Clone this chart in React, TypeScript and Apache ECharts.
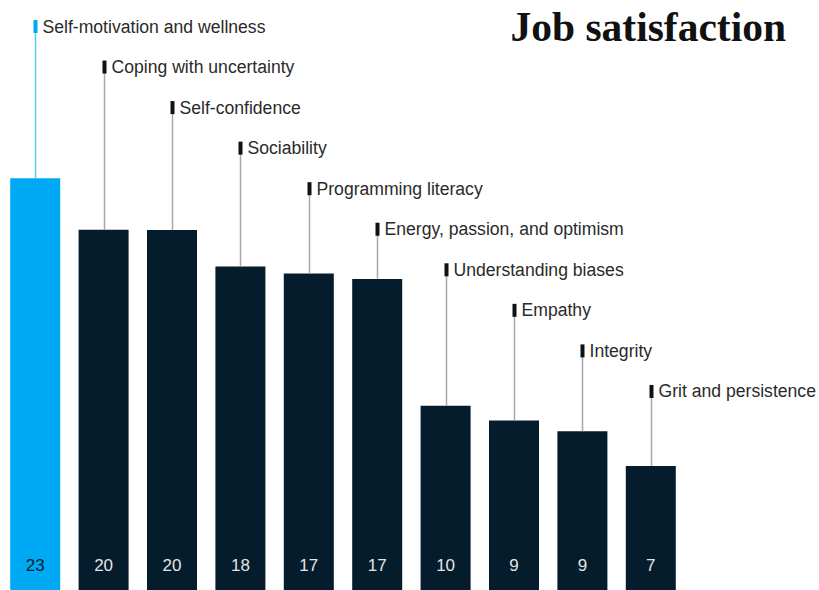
import React, { useEffect, useRef } from "react";
import * as echarts from "echarts";

const categories = [
  "Self-motivation and wellness",
  "Coping with uncertainty",
  "Self-confidence",
  "Sociability",
  "Programming literacy",
  "Energy, passion, and optimism",
  "Understanding biases",
  "Empathy",
  "Integrity",
  "Grit and persistence",
];
const values = [23.03, 20.15, 20.13, 18.1, 17.7, 17.4, 10.3, 9.48, 8.88, 6.94];
const valueLabels = ["23", "20", "20", "18", "17", "17", "10", "9", "9", "7"];
const highlightIndex = [0];

const TITLE = "Job satisfaction";
const BLUE = "#00A9F4";
const NAVY = "#051C2C";

export default function App() {
  const ref = useRef<HTMLDivElement>(null);
  useEffect(() => {
    if (!ref.current) return;
    const chart = echarts.init(ref.current, null, { renderer: "svg" });
    const LABEL_TOP = 26.5;
    const LABEL_STEP = 40.55;
    const font = "'Liberation Sans', Arial, sans-serif";
    chart.setOption({
      animation: false,
      backgroundColor: "#ffffff",
      grid: { left: 1, right: 134, top: 0, bottom: 0 },
      xAxis: {
        type: "category",
        data: categories,
        show: false,
      },
      yAxis: { type: "value", min: 0, max: 33, show: false },
      graphic: [
        {
          type: "text",
          right: 33,
          top: 6,
          style: {
            text: TITLE,
            font: "bold 41.5px 'Liberation Serif', 'Times New Roman', serif",
            fill: "#111111",
          },
        },
      ],
      series: [
        {
          type: "bar",
          barWidth: 50,
          data: values.map((v, i) => ({
            value: v,
            itemStyle: { color: highlightIndex.includes(i) ? BLUE : NAVY },
            label: {
              color: highlightIndex.includes(i) ? "#0b1f2e" : "#e4e4e4",
            },
          })),
          label: {
            show: true,
            position: "insideBottom",
            distance: 16,
            fontSize: 17,
            fontFamily: font,
            formatter: (p: any) => valueLabels[p.dataIndex],
          },
        },
        {
          type: "custom",
          data: values.map((v, i) => [i, v]),
          z: 5,
          renderItem: (params: any, api: any) => {
            const i = params.dataIndex;
            const top = api.coord([api.value(0), api.value(1)]);
            const x = Math.round(top[0]) + 0.5;
            const ly = LABEL_TOP + i * LABEL_STEP;
            const hi = highlightIndex.includes(i);
            return {
              type: "group",
              children: [
                {
                  type: "line",
                  shape: { x1: x, y1: ly + 6, x2: x, y2: top[1] },
                  style: { stroke: hi ? "#5cc8f7" : "#a8a8a8", lineWidth: 1.5 },
                },
                {
                  type: "rect",
                  shape: { x: x - 2, y: ly - 6.5, width: 4, height: 13 },
                  style: { fill: hi ? BLUE : "#111111" },
                },
                {
                  type: "text",
                  x: x + 7,
                  y: ly,
                  style: {
                    text: categories[i],
                    font: `17.6px ${font}`,
                    fill: "#2a2a2a",
                    verticalAlign: "middle",
                    align: "left",
                  },
                },
              ],
            };
          },
        },
      ],
    });
    return () => chart.dispose();
  }, []);
  return <div ref={ref} style={{ width: 819, height: 590, position: "absolute", left: 0, top: 0 }} />;
}
